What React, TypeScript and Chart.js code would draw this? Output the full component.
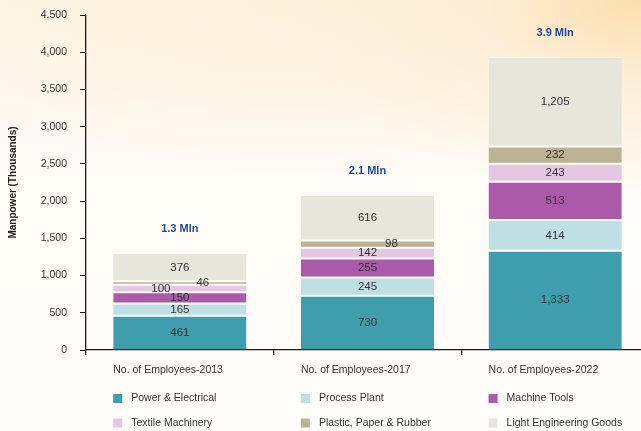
import React, { useEffect, useRef } from 'react';
import { Chart, registerables } from 'chart.js';

Chart.register(...registerables);

const categories = ['No. of Employees-2013', 'No. of Employees-2017', 'No. of Employees-2022'];
const seriesNames = [
  'Power & Electrical',
  'Process Plant',
  'Machine Tools',
  'Textile Machinery',
  'Plastic, Paper & Rubber',
  'Light Engineering Goods',
];
const powerElectrical = [461, 730, 1333];
const processPlant = [165, 245, 414];
const machineTools = [150, 255, 513];
const textileMachinery = [100, 142, 243];
const plasticPaperRubber = [46, 98, 232];
const lightEngineering = [376, 616, 1205];
const yMin = 0;
const yMax = 4500;
const yStep = 500;
const yTitle = 'Manpower (Thousands)';
const totalSuffix = ' Mln';

const seriesValues = [
  powerElectrical,
  processPlant,
  machineTools,
  textileMachinery,
  plasticPaperRubber,
  lightEngineering,
];
const seriesColors = ['#3f9eae', '#bedfe3', '#aa5aa8', '#e4c8e3', '#bdb392', '#e6e6da'];

// label nudges for crowded thin segments: key "dataset-index" -> [dx, dy]
const labelNudge: Record<string, [number, number]> = {
  '3-0': [-19, 0],
  '4-0': [23, 0],
  '4-1': [24, 0],
};

const FONT = "'Liberation Sans', Arial, sans-serif";
const TEXT = '#333333';

const overlayPlugin = {
  id: 'overlay',
  afterDatasetsDraw(chart: any) {
    const ctx = chart.ctx as CanvasRenderingContext2D;
    ctx.save();
    // segment value labels
    ctx.font = `11.5px ${FONT}`;
    ctx.fillStyle = TEXT;
    ctx.textAlign = 'center';
    ctx.textBaseline = 'middle';
    chart.data.datasets.forEach((ds: any, di: number) => {
      const meta = chart.getDatasetMeta(di);
      meta.data.forEach((bar: any, i: number) => {
        const p = bar.getProps(['x', 'y', 'base'], true);
        const nudge = labelNudge[`${di}-${i}`] || [0, 0];
        const v = ds.data[i] as number;
        ctx.fillText(v.toLocaleString('en-US'), p.x + nudge[0], (p.y + p.base) / 2 + nudge[1]);
      });
    });
    // totals
    const yScale = chart.scales.y;
    const firstMeta = chart.getDatasetMeta(0);
    ctx.font = `bold 11px ${FONT}`;
    ctx.fillStyle = '#1d4c9c';
    categories.forEach((_, i) => {
      const total = seriesValues.reduce((s, arr) => s + arr[i], 0);
      const x = firstMeta.data[i].x;
      const y = yScale.getPixelForValue(total) - 24;
      ctx.fillText((total / 1000).toFixed(1) + totalSuffix, x, y);
    });
    // category labels, left aligned at bar left edge
    const barLeft = firstMeta.data.map((b: any) => {
      const p = b.getProps(['x', 'width'], true);
      return p.x - p.width / 2;
    });
    ctx.font = `10.5px ${FONT}`;
    ctx.fillStyle = TEXT;
    ctx.textAlign = 'left';
    const bottom = chart.chartArea.bottom;
    categories.forEach((c, i) => {
      ctx.fillText(c, barLeft[i], bottom + 20);
    });
    // legend grid: 2 rows x 3 columns aligned with bars
    seriesNames.forEach((name, k) => {
      const col = k % 3;
      const row = Math.floor(k / 3);
      const x = barLeft[col];
      const y = bottom + 48.5 + row * 24.5;
      ctx.fillStyle = seriesColors[k];
      ctx.fillRect(x, y - 4.5, 9, 9);
      ctx.fillStyle = TEXT;
      ctx.fillText(name, x + 18, y);
    });
    ctx.restore();
  },
};

export default function App() {
  const canvasRef = useRef<HTMLCanvasElement | null>(null);

  useEffect(() => {
    const canvas = canvasRef.current;
    if (!canvas) return;
    const yTickValues: number[] = [];
    for (let v = yMin; v <= yMax; v += yStep) yTickValues.push(v);

    const chart = new Chart(canvas, {
      type: 'bar',
      data: {
        labels: categories,
        datasets: seriesNames.map((name, k) => ({
          label: name,
          data: seriesValues[k],
          backgroundColor: seriesColors[k],
          borderColor: '#ffffff',
          borderWidth: { top: 1, bottom: k === 0 ? 0 : 1, left: 0, right: 0 },
          borderSkipped: false,
          barPercentage: 0.71,
          categoryPercentage: 1,
        })),
      },
      options: {
        responsive: false,
        animation: false,
        layout: { padding: { left: 0, right: 11, top: 15, bottom: 0 } },
        plugins: {
          legend: { display: false },
          tooltip: { enabled: false },
        },
        scales: {
          x: {
            stacked: true,
            border: { color: '#1a1a1a', width: 1.3 },
            grid: {
              offset: true,
              drawOnChartArea: false,
              drawTicks: true,
              tickLength: 5,
              color: '#1a1a1a',
              lineWidth: 1.3,
            },
            ticks: { display: false },
            afterFit: (scale: any) => {
              scale.height = 81;
              scale.paddingLeft = 0;
              scale.paddingRight = 0;
            },
          },
          y: {
            stacked: true,
            min: yMin,
            max: yMax,
            border: { color: '#1a1a1a', width: 1.3 },
            grid: {
              drawOnChartArea: false,
              drawTicks: true,
              tickLength: 6,
              color: '#1a1a1a',
              lineWidth: 1,
            },
            afterBuildTicks: (scale: any) => {
              scale.ticks = yTickValues.map((v) => ({ value: v }));
            },
            ticks: {
              color: TEXT,
              font: { family: FONT, size: 10.5 },
              padding: 13,
              callback: (v: any) => Number(v).toLocaleString('en-US'),
            },
            title: {
              display: true,
              text: yTitle,
              color: '#222222',
              font: { family: FONT, size: 10, weight: 'bold' },
              padding: { top: 7, bottom: 0 },
            },
            afterFit: (scale: any) => {
              scale.width = 86;
              scale.paddingTop = 0;
              scale.paddingBottom = 0;
            },
          },
        },
      },
      plugins: [overlayPlugin],
    });
    return () => chart.destroy();
  }, []);

  return (
    <div
      style={{
        position: 'fixed',
        left: 0,
        top: 0,
        width: 641,
        height: 431,
        overflow: 'hidden',
        background:
          'radial-gradient(ellipse 55% 45% at 100% 0%, rgba(251,221,170,0.95) 0%, rgba(252,234,205,0.6) 45%, rgba(255,250,240,0) 100%), radial-gradient(ellipse 70% 40% at 45% 0%, rgba(253,240,215,0.8) 0%, rgba(255,250,240,0) 100%), linear-gradient(to bottom, #fdf6ea 0%, #fffcf8 55%, #fffdfb 100%)',
      }}
    >
      <canvas ref={canvasRef} width={660} height={431} style={{ display: 'block', width: 660, height: 431 }} />
    </div>
  );
}
